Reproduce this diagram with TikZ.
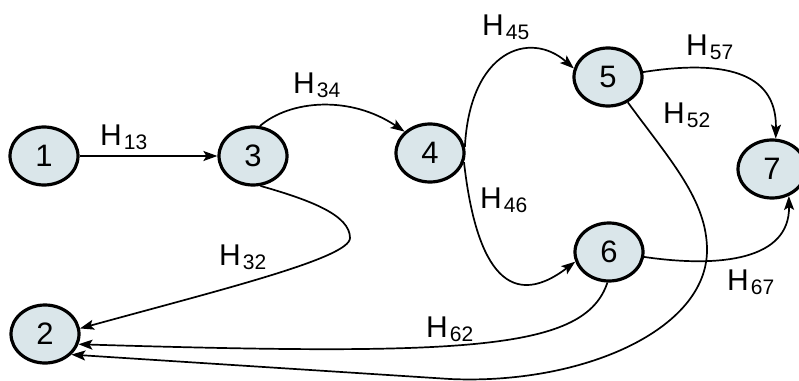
\documentclass[tikz,border=0pt]{standalone}
\usepackage{fontspec}
\setmainfont{Liberation Sans}
\usetikzlibrary{arrows.meta,shapes.geometric}

\definecolor{statefill}{RGB}{218,230,234}
\newcommand{\hsub}[1]{{\fontsize{30}{30}\selectfont H\hspace{2pt}\raisebox{-4pt}{\fontsize{21}{21}\selectfont #1}}}

\tikzset{
  state/.style={ellipse, draw, line width=3.2pt, fill=statefill,
    minimum width=68pt, minimum height=58pt, inner sep=0pt,
    font=\fontsize{31}{31}\selectfont},
  trans/.style={line width=1.7pt, -{Stealth[length=14pt,width=10pt,inset=3pt]}},
  hlabel/.style={anchor=base west, inner sep=0pt}
}

\begin{document}
\begin{tikzpicture}[x=1pt, y=-1pt]
\useasboundingbox (0,0) rectangle (799,380);
\clip (0,0) rectangle (799,380);

% states
\node[state] (n1) at (44,156) {1};
\node[state] (n3) at (253,156) {3};
\node[state] (n4) at (430,153) {4};
\node[state] (n5) at (608,77) {5};
\node[state] (n7) at (772,169) {7};
\node[state] (n6) at (609,252) {6};
\node[state] (n2) at (45,334) {2};

% transitions
\draw[trans] (n1.east) -- (n3.west);
\draw[trans] (n3.77) .. controls (290,100) and (350,95) .. (n4.140);
\draw[trans] (n3.-76) .. controls (310,200) and (350,215) .. (350,238)
    .. controls (350,258) and (220,290) .. (n2.9);
\draw[trans] (n4.10) .. controls (470,50) and (530,30) .. (n5.166);
\draw[trans] (n4.-15) .. controls (475,260) and (505,315) .. (n6.196);
\draw[trans] (n5.8) .. controls (720,60) and (777,70) .. (n7.83);
\draw[trans] (n5.-52) .. controls (670,160) and (707,200) .. (707,250)
    .. controls (707,330) and (582,385) .. (450,379) -- (n2.-38);
\draw[trans] (n6.-8) .. controls (720,268) and (790,260) .. (n7.-58);
\draw[trans] (n6.-93) .. controls (585,350) and (470,356) .. (n2.-17);

% labels
\node[hlabel] (l13) at (100,145) {\hsub{13}};
\node[hlabel] (l34) at (293,93) {\hsub{34}};
\node[hlabel] (l45) at (482,35) {\hsub{45}};
\node[hlabel] (l57) at (686,55) {\hsub{57}};
\node[hlabel] (l52) at (663,123) {\hsub{52}};
\node[hlabel] (l46) at (480,208) {\hsub{46}};
\node[hlabel] (l32) at (219,265) {\hsub{32}};
\node[hlabel] (l62) at (426,337) {\hsub{62}};
\node[hlabel] (l67) at (727,290) {\hsub{67}};
\end{tikzpicture}
\end{document}
